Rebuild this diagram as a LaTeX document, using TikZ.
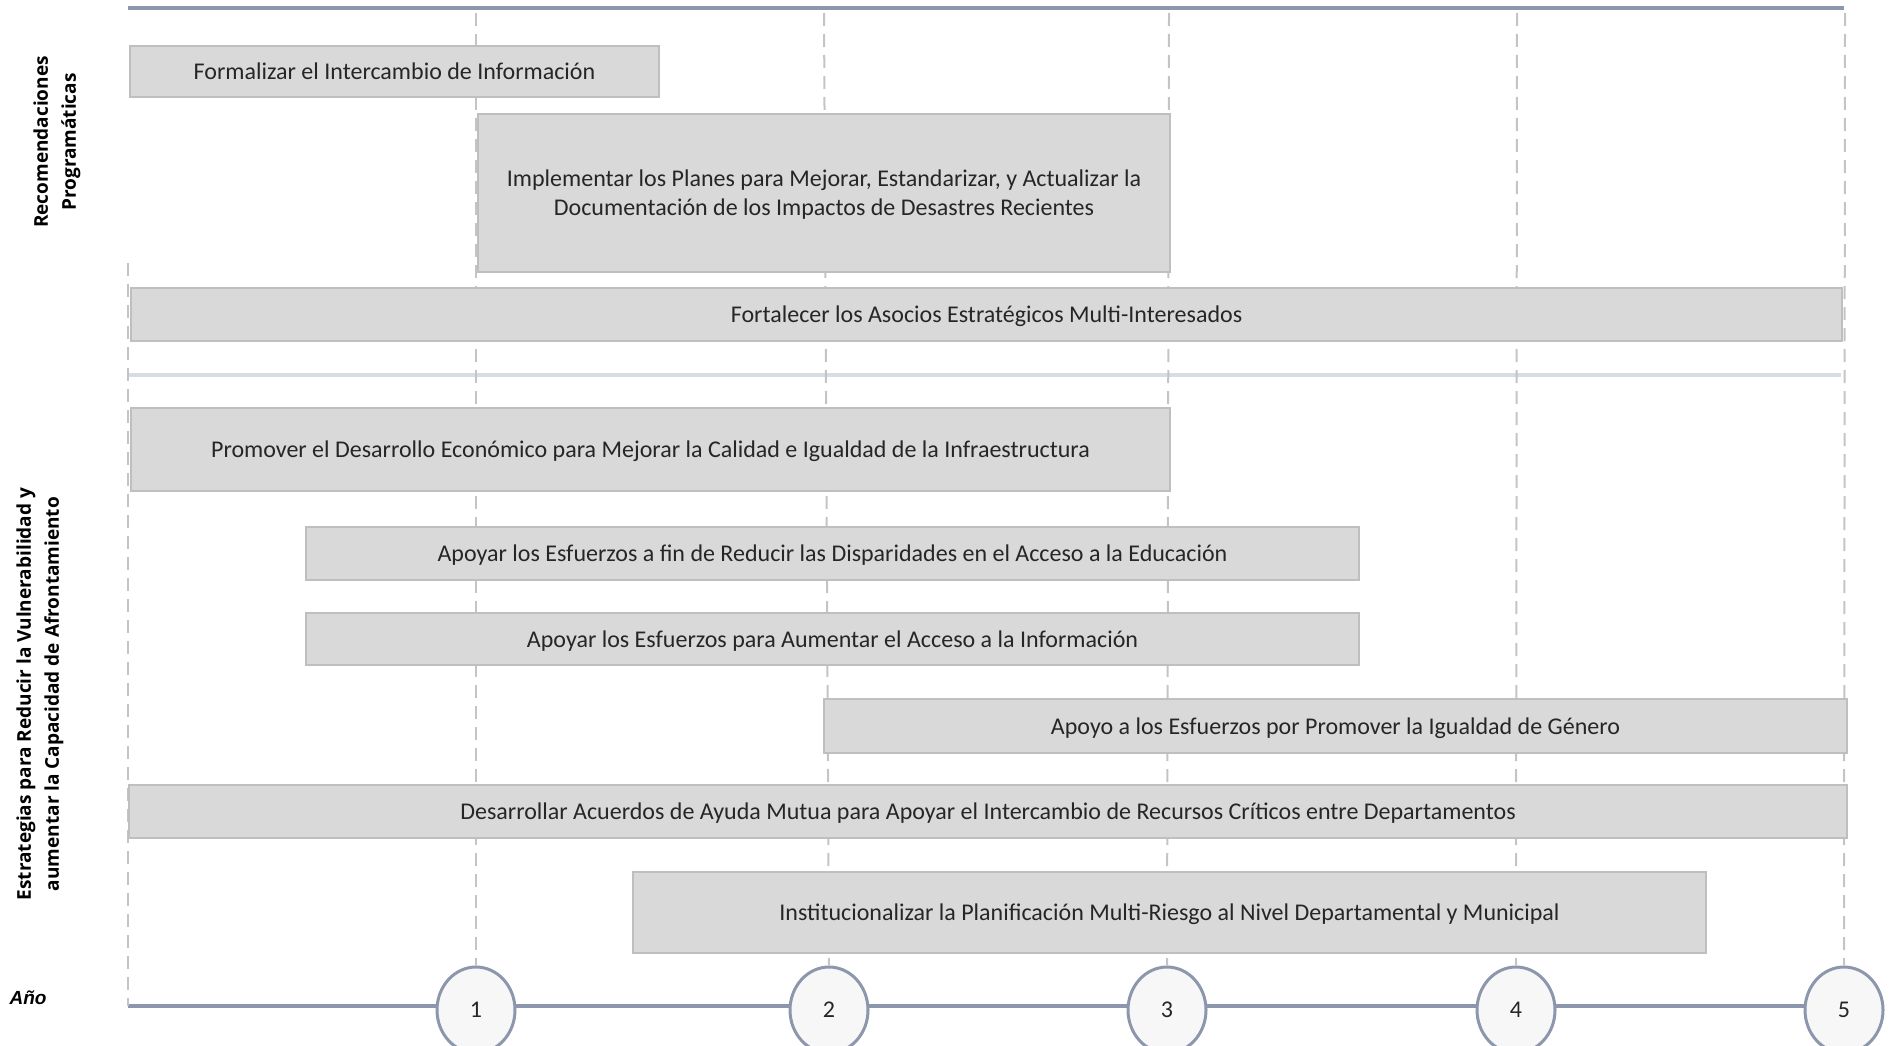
\documentclass[tikz,border=0pt]{standalone}
\usepackage{fontspec}
\setmainfont{Carlito}
\newfontfamily\labfont{Open Sans}
\newfontfamily\anofont{Liberation Sans}
\usetikzlibrary{shapes.geometric}
\definecolor{axisc}{RGB}{140,150,172}
\definecolor{gridc}{RGB}{196,196,196}
\definecolor{barfill}{RGB}{217,217,217}
\definecolor{bardraw}{RGB}{191,191,191}
\definecolor{sepc}{RGB}{214,221,230}
\definecolor{circfill}{RGB}{247,247,247}
\begin{document}
\begin{tikzpicture}[x=1pt,y=-1pt,
  bar/.style={draw=bardraw,fill=barfill,line width=2pt,anchor=north west,inner sep=0pt,
    font=\fontsize{24}{29}\selectfont,align=center,text=black!85,text depth=0pt},
  gridline/.style={draw=gridc,line width=2pt,dash pattern=on 13pt off 8pt},
  axisline/.style={draw=axisc,line width=4.5pt},
  yearc/.style={ellipse,draw=axisc,line width=3pt,fill=circfill,minimum width=78pt,
    minimum height=86pt,inner sep=0pt,font=\fontsize{24}{29}\selectfont,text=black!85},
  sidelab/.style={rotate=90,align=center,font=\labfont\bfseries\fontsize{19}{28}\selectfont}]
\useasboundingbox (0,0) rectangle (1889,1046);
% coordinates
\coordinate (t0) at (128,8);
\coordinate (t5) at (1844,8);
\coordinate (ax0) at (128,1006);
\coordinate (ax5) at (1844,1006);
\coordinate (s0) at (128,375);
\coordinate (s5) at (1841,375);
% axis lines
\draw[axisline] (t0) -- (t5);
\draw[axisline] (ax0) -- (ax5);
\draw[draw=sepc,line width=4pt] (s0) -- (s5);
% year circles
\node[yearc] (c1) at (476,1010) {1};
\node[yearc] (c2) at (829,1010) {2};
\node[yearc] (c3) at (1167,1010) {3};
\node[yearc] (c4) at (1516,1010) {4};
\node[yearc] (c5) at (1844,1010) {5};
% grid lines
\coordinate (g0) at (128,263);
\coordinate (g1) at (476,13);
\coordinate (g2) at (824,13);
\coordinate (g3) at (1169,13);
\coordinate (g4) at (1517,13);
\coordinate (g5) at (1845,13);
\draw[gridline] (g0) -- (ax0);
\draw[gridline] (g1) -- (c1.north);
\draw[gridline] (g2) -- (c2.north);
\draw[gridline] (g3) -- (c3.north);
\draw[gridline] (g4) -- (c4.north);
\draw[gridline] (g5) -- (c5.north);
% bars
\node[bar,minimum width=529pt,minimum height=51pt] (b1) at (129,45) {Formalizar el Intercambio de Información};
\node[bar,minimum width=692pt,minimum height=158pt] (b2) at (477,113) {Implementar los Planes para Mejorar, Estandarizar, y Actualizar la\\Documentación de los Impactos de Desastres Recientes};
\node[bar,minimum width=1711pt,minimum height=53pt] (b3) at (130,287) {Fortalecer los Asocios Estratégicos Multi-Interesados};
\node[bar,minimum width=1039pt,minimum height=83pt] (b4) at (130,407) {Promover el Desarrollo Económico para Mejorar la Calidad e Igualdad de la Infraestructura};
\node[bar,minimum width=1053pt,minimum height=53pt] (b5) at (305,526) {Apoyar los Esfuerzos a fin de Reducir las Disparidades en el Acceso a la Educación};
\node[bar,minimum width=1053pt,minimum height=52pt] (b6) at (305,612) {Apoyar los Esfuerzos para Aumentar el Acceso a la Información};
\node[bar,minimum width=1023pt,minimum height=54pt] (b7) at (823,698) {Apoyo a los Esfuerzos por Promover la Igualdad de Género};
\node[bar,minimum width=1718pt,minimum height=53pt] (b8) at (128,784) {Desarrollar Acuerdos de Ayuda Mutua para Apoyar el Intercambio de Recursos Críticos entre Departamentos};
\node[bar,minimum width=1073pt,minimum height=81pt] (b9) at (632,871) {Institucionalizar la Planificación Multi-Riesgo al Nivel Departamental y Municipal};
% side labels
\node[sidelab] (l1) at (57,142) {Recomendaciones\\Programáticas};
\node[sidelab] (l2) at (40,694) {Estrategias para Reducir la Vulnerabilidad y\\aumentar la Capacidad de Afrontamiento};
\node[font=\anofont\bfseries\itshape\fontsize{19}{22}\selectfont] (ano) at (28,998) {Año};
\end{tikzpicture}
\end{document}
